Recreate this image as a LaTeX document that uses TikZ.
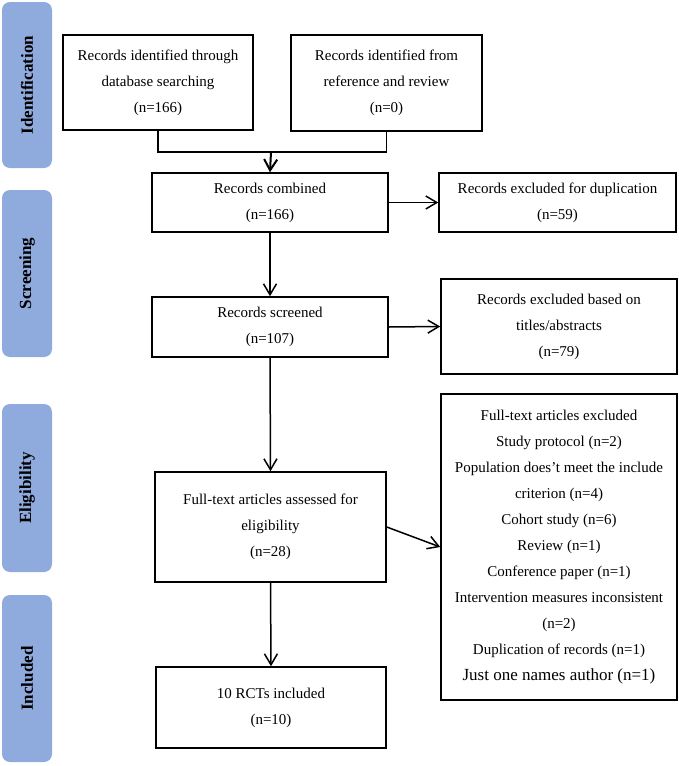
\documentclass[tikz,border=0pt]{standalone}
\usepackage{fontspec}
\setmainfont{Liberation Serif}
\usepackage{xcolor}
\usetikzlibrary{arrows.meta}

\definecolor{phaseblue}{RGB}{143,170,220}

\tikzset{
    box/.style={draw, line width=1.5pt, align=center, inner sep=2pt,
        font=\fontsize{15pt}{26pt}\selectfont},
    phase/.style={fill=phaseblue, rounded corners=8pt, rotate=90,
        minimum height=50pt, font=\fontsize{17pt}{20pt}\selectfont\bfseries},
    link/.style={line width=1.5pt, -{Straight Barb[length=11pt,width=13pt]}}
}

\begin{document}
\begin{tikzpicture}[x=1pt, y=-1pt]
            \useasboundingbox (0, 0) rectangle (679, 766);

            % phases
            \node[phase, minimum width=166pt] (identification) at (27, 85) {Identification};
            \node[phase, minimum width=167pt] (screening) at (27, 273.5) {Screening};
            \node[phase, minimum width=168pt] (eligibility) at (27, 488) {Eligibility};
            \node[phase, minimum width=167pt] (included) at (27, 678.5) {Included};

            % boxes
            \node[box, minimum width=190pt, minimum height=95pt] (search) at (158, 82.5)
                {Records identified through\\database searching\\(n=166)};
            \node[box, minimum width=191pt, minimum height=96pt] (review) at (386.5, 83)
                {Records identified from\\reference and review\\(n=0)};
            \node[box, minimum width=236pt, minimum height=59pt] (combined) at (270, 202.5)
                {Records combined\\(n=166)};
            \node[box, minimum width=237pt, minimum height=59pt] (duplicate) at (557.5, 202.5)
                {Records excluded for duplication\\(n=59)};
            \node[box, minimum width=236pt, minimum height=60pt] (screened) at (270, 327)
                {Records screened\\(n=107)};
            \node[box, minimum width=236pt, minimum height=95pt] (titles) at (559, 326.5)
                {Records excluded based on\\titles/abstracts\\(n=79)};
            \node[box, minimum width=231pt, minimum height=110pt] (assessed) at (270.5, 527)
                {Full-text articles assessed for\\eligibility\\(n=28)};
            \node[box, minimum width=236pt, minimum height=306pt] (fulltext) at (559, 547)
                {Full-text articles excluded\\Study protocol (n=2)\\
                 Population does’t meet the include\\criterion (n=4)\\
                 Cohort study (n=6)\\Review (n=1)\\Conference paper (n=1)\\
                 Intervention measures inconsistent\\(n=2)\\
                 Duplication of records (n=1)\\
                 {\fontsize{17pt}{26pt}\selectfont Just one names author (n=1)}};
            \node[box, minimum width=230pt, minimum height=81pt] (rcts) at (271, 707.5)
                {10 RCTs included\\(n=10)};

            % connectors
            \coordinate (merge) at (271, 152);
            \draw[line width=1.5pt] (search.south) |- (merge) -| (review.south); % search-review
            \draw[link, line width=2pt] (merge) -- (combined.north); % merge-combined
            \draw[link] (combined.east) -- (duplicate.west); % combined-duplicate
            \draw[link] (combined.south) -- (screened.north); % combined-screened
            \draw[link] (screened.east) -- (titles.west); % screened-titles
            \draw[link] (screened.south) -- (assessed.north); % screened-assessed
            \draw[link] (assessed.east) -- (fulltext.west); % assessed-fulltext
            \draw[link] (assessed.south) -- (rcts.north); % assessed-rcts
        \end{tikzpicture}
\end{document}
